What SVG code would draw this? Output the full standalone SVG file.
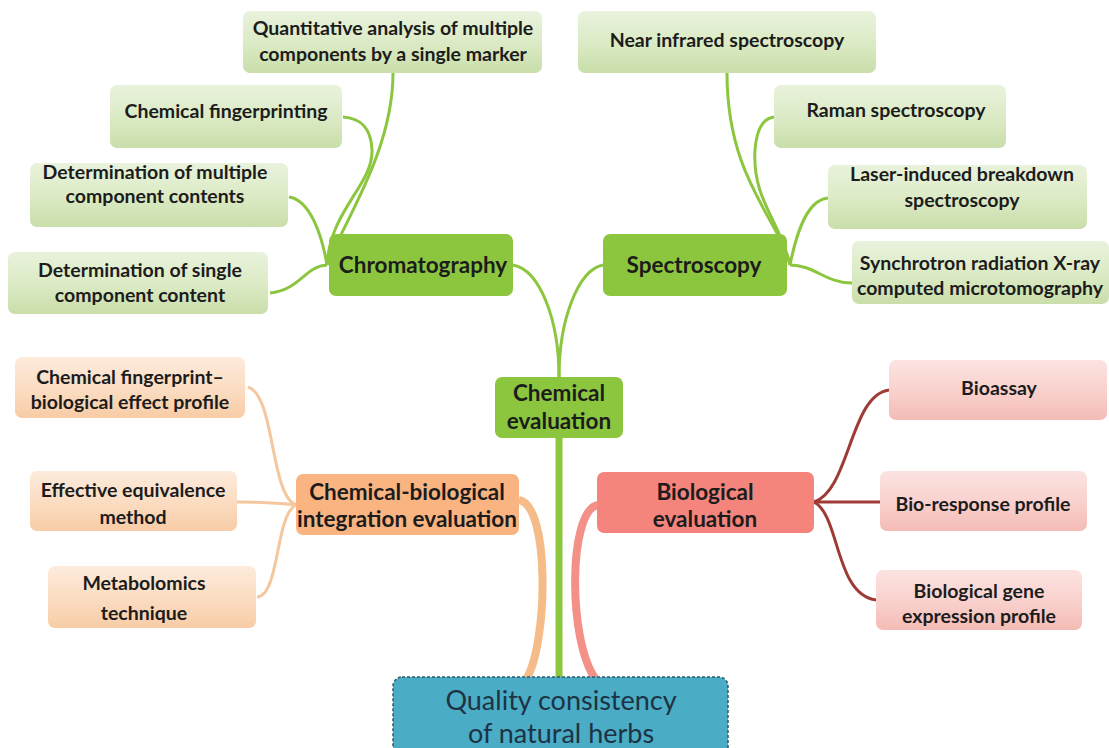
<svg xmlns="http://www.w3.org/2000/svg" width="1109" height="748" viewBox="0 0 1109 748">
<defs>
<linearGradient id="gG" x1="0" y1="0" x2="0" y2="1"><stop offset="0" stop-color="#E9F2DC"/><stop offset="0.5" stop-color="#DCEBC6"/><stop offset="1" stop-color="#C9DEAA"/></linearGradient>
<linearGradient id="gO" x1="0" y1="0" x2="0" y2="1"><stop offset="0" stop-color="#FDEBDC"/><stop offset="0.5" stop-color="#FBDDC3"/><stop offset="1" stop-color="#F8CCA6"/></linearGradient>
<linearGradient id="gP" x1="0" y1="0" x2="0" y2="1"><stop offset="0" stop-color="#FCE3E0"/><stop offset="0.5" stop-color="#F9D2CE"/><stop offset="1" stop-color="#F4BBB5"/></linearGradient>
<style>
text{font-family:Lato,"Open Sans","Liberation Sans",sans-serif;font-weight:bold;fill:#1c1c1c;text-anchor:middle}
.s{font-size:19.5px}
.m{font-size:22.5px}
.r{font-size:27px;font-weight:normal;fill:#1d3344}
.lg{fill:url(#gG)}
.lo{fill:url(#gO)}
.lp{fill:url(#gP)}
.cg{stroke:#8CC63F;stroke-width:3;fill:none}
.co{stroke:#F5C79E;stroke-width:3;fill:none}
.cr{stroke:#9E3B36;stroke-width:3;fill:none}
</style>
</defs>
<rect width="1109" height="748" fill="#ffffff"/>
<g id="connectors">
<path class="cg" d="M559,377 C559,320 540,270 513,265"/>
<path class="cg" d="M559,377 C559,320 578,270 603,265"/>
<path class="cg" d="M327,265 C345,220 393,150 393,73"/>
<path class="cg" d="M327,265 C330,210 373,185 372,150 C371,125 358,118 343,117"/>
<path class="cg" d="M327,265 C322,235 310,200 289,197"/>
<path class="cg" d="M327,265 C305,266 300,290 270,293"/>
<path class="cg" d="M790,265 C780,220 727,180 727,73"/>
<path class="cg" d="M790,265 C780,220 752,200 755,150 C757,125 765,118 774,117"/>
<path class="cg" d="M790,265 C795,240 805,200 828,198"/>
<path class="cg" d="M790,265 C815,265 825,283 852,283"/>
<path class="co" d="M296,505 C270,495 275,395 248,387"/>
<path class="co" d="M296,505 C280,503 260,502 237,502"/>
<path class="co" d="M296,505 C275,515 280,595 257,597"/>
<path class="cr" d="M814,502 C850,490 850,395 889,390"/>
<path class="cr" d="M814,502 C840,502 860,502 880,502"/>
<path class="cr" d="M814,502 C840,515 835,595 876,600"/>
<path d="M559,437 L559,680" stroke="#8CC63F" stroke-width="7" fill="none"/>
<path d="M519,500 C550,505 548,640 527,678" stroke="#F5BC89" stroke-width="8" fill="none"/>
<path d="M598,505 C568,510 568,640 595,678" stroke="#F39189" stroke-width="8" fill="none"/>
</g>
<g id="root">
<rect x="393" y="677" width="335" height="90" rx="9" fill="#4BACC6" stroke="#2E5B6B" stroke-width="1.5" stroke-dasharray="3,2"/>
<text class="r" x="561" y="710">Quality consistency</text>
<text class="r" x="561" y="743">of natural herbs</text>
</g>
<g id="chemical-evaluation">
<rect x="495" y="377" width="128" height="61" rx="7" fill="#8CC63F"/>
<text class="m" x="559" y="401">Chemical</text>
<text class="m" x="559" y="429">evaluation</text>
</g>
<g id="chromatography">
<rect x="329" y="234" width="184" height="62" rx="7" fill="#8CC63F"/>
<text class="m" x="423" y="273">Chromatography</text>
</g>
<g id="spectroscopy">
<rect x="603" y="234" width="184" height="62" rx="7" fill="#8CC63F"/>
<text class="m" x="694" y="273">Spectroscopy</text>
</g>
<g id="qams">
<rect x="243" y="11" width="299" height="62" rx="7" class="lg"/>
<text class="s" x="393" y="35">Quantitative analysis of multiple</text>
<text class="s" x="393" y="61">components by a single marker</text>
</g>
<g id="fingerprinting">
<rect x="110" y="85" width="232" height="63" rx="7" class="lg"/>
<text class="s" x="226" y="118">Chemical fingerprinting</text>
</g>
<g id="multi-content">
<rect x="30" y="163" width="258" height="64" rx="7" class="lg"/>
<text class="s" x="155" y="179">Determination of multiple</text>
<text class="s" x="155" y="203">component contents</text>
</g>
<g id="single-content">
<rect x="8" y="252" width="260" height="62" rx="7" class="lg"/>
<text class="s" x="140" y="277">Determination of single</text>
<text class="s" x="140" y="302">component content</text>
</g>
<g id="nir">
<rect x="578" y="11" width="298" height="62" rx="7" class="lg"/>
<text class="s" x="727" y="47">Near infrared spectroscopy</text>
</g>
<g id="raman">
<rect x="774" y="85" width="232" height="63" rx="7" class="lg"/>
<text class="s" x="896" y="117">Raman spectroscopy</text>
</g>
<g id="libs">
<rect x="828" y="165" width="259" height="64" rx="7" class="lg"/>
<text class="s" x="962" y="181">Laser-induced breakdown</text>
<text class="s" x="962" y="207">spectroscopy</text>
</g>
<g id="srxct">
<rect x="852" y="241" width="257" height="63" rx="7" class="lg"/>
<text class="s" x="980" y="270">Synchrotron radiation X-ray</text>
<text class="s" x="980" y="295">computed microtomography</text>
</g>
<g id="chem-bio">
<rect x="296" y="474" width="223" height="61" rx="7" fill="#F9B482"/>
<text class="m" x="407" y="500">Chemical-biological</text>
<text class="m" x="407" y="527">integration evaluation</text>
</g>
<g id="fp-effect">
<rect x="15" y="357" width="230" height="61" rx="7" class="lo"/>
<text class="s" x="130" y="384">Chemical fingerprint–</text>
<text class="s" x="130" y="409">biological effect profile</text>
</g>
<g id="equivalence">
<rect x="30" y="471" width="207" height="60" rx="7" class="lo"/>
<text class="s" x="133" y="497">Effective equivalence</text>
<text class="s" x="133" y="524">method</text>
</g>
<g id="metabolomics">
<rect x="48" y="566" width="208" height="62" rx="7" class="lo"/>
<text class="s" x="144" y="590">Metabolomics</text>
<text class="s" x="144" y="620">technique</text>
</g>
<g id="biological">
<rect x="597" y="472" width="217" height="61" rx="7" fill="#F4847C"/>
<text class="m" x="705" y="500">Biological</text>
<text class="m" x="705" y="527">evaluation</text>
</g>
<g id="bioassay">
<rect x="889" y="360" width="218" height="60" rx="7" class="lp"/>
<text class="s" x="999" y="395">Bioassay</text>
</g>
<g id="bio-response">
<rect x="880" y="471" width="207" height="60" rx="7" class="lp"/>
<text class="s" x="983" y="511">Bio-response profile</text>
</g>
<g id="gene-expression">
<rect x="876" y="570" width="206" height="60" rx="7" class="lp"/>
<text class="s" x="979" y="598">Biological gene</text>
<text class="s" x="979" y="623">expression profile</text>
</g>
</svg>
